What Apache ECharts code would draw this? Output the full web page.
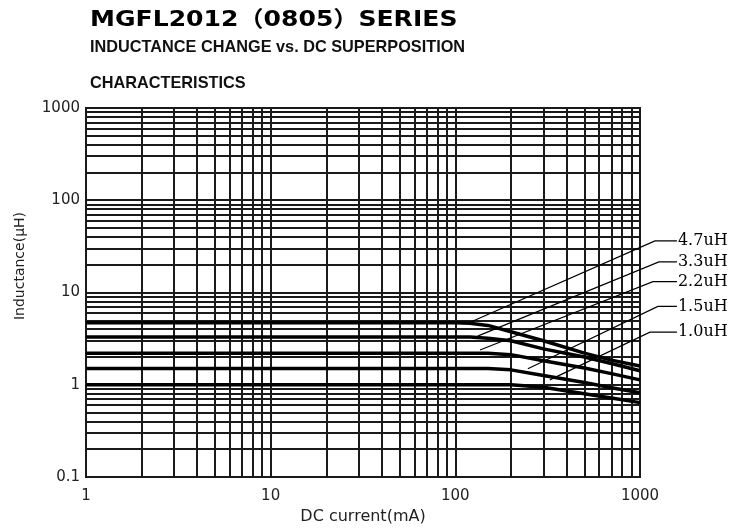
<!DOCTYPE html>
<html>
<head>
<meta charset="utf-8">
<script src="https://cdn.jsdelivr.net/npm/echarts@6/dist/echarts.min.js"></script>
<style>
html,body{margin:0;padding:0;background:#fff;}
#chart{width:735px;height:530px;}
</style>
</head>
<body>
<div id="chart"></div>
<script>
// ---- data ----
const currents = [1, 100, 120, 150, 200, 300, 500, 700, 1000];   // mA
const L47 = [4.7, 4.7, 4.65, 4.4, 3.75, 3.0, 2.2, 1.85, 1.6];
const L33 = [3.3, 3.3, 3.3, 3.2, 3.0, 2.45, 2.0, 1.7, 1.42];
const L22 = [2.2, 2.2, 2.2, 2.2, 2.12, 1.82, 1.52, 1.32, 1.13];
const L15 = [1.5, 1.5, 1.5, 1.5, 1.45, 1.26, 1.06, 0.93, 0.82];
const L10 = [1.0, 1.0, 1.0, 1.0, 1.0, 0.94, 0.8, 0.72, 0.64];

const labelNames = ['4.7uH', '3.3uH', '2.2uH', '1.5uH', '1.0uH'];
const leaderAnchorX = [117, 132, 136, 247, 325];
const leaderAnchorY = [4.64, 3.37, 2.38, 1.49, 1.13];
const leaderKinkX = [1205, 1266, 1175, 1250, 1132];
const leaderTextY = [36.2, 21.5, 13.1, 7.07, 3.72];
const leaderEndX = 1585;

const xTicks = [1, 10, 100, 1000];
const yTicks = [0.1, 1, 10, 100, 1000];
const mantissas = [2, 3, 4, 5, 6, 7, 8, 9];

// minor grid values
const xMinor = [], yMinor = [];
[1, 10, 100].forEach(d => mantissas.forEach(m => xMinor.push(m * d)));
[0.1, 1, 10, 100].forEach(d => mantissas.forEach(m => yMinor.push(+(m * d).toPrecision(3))));

const chart = echarts.init(document.getElementById('chart'), null, {renderer: 'canvas'});

const gridColor = '#1a1a1a';
const curveSets = [L47, L33, L22, L15, L10];

const series = curveSets.map((arr, i) => ({
  type: 'line',
  name: labelNames[i],
  data: currents.map((c, k) => [c, arr[k]]),
  showSymbol: false,
  symbol: 'none',
  lineStyle: {color: '#000', width: 3.5},
  z: 5,
  animation: false
}));

// minor grid lines via markLine on a carrier series
series.push({
  type: 'line',
  data: [],
  silent: true,
  animation: false,
  markLine: {
    silent: true,
    animation: false,
    symbol: ['none', 'none'],
    label: {show: false},
    lineStyle: {type: 'solid', color: gridColor, width: 2},
    data: xMinor.map(v => ({xAxis: v})).concat(yMinor.map(v => ({yAxis: v})))
  }
});

const fmt = v => String(+(+v).toPrecision(6));

chart.setOption({
  backgroundColor: '#fff',
  animation: false,
  grid: {left: 86, right: 95, top: 108, bottom: 50, show: true, borderColor: gridColor, borderWidth: 2, containLabel: false},
  xAxis: {
    type: 'log', logBase: 10, min: 1, max: 1000, splitNumber: 3,
    axisLine: {show: true, lineStyle: {color: gridColor, width: 2}},
    axisTick: {show: false},
    axisLabel: {color: '#222', fontFamily: '"DejaVu Sans", sans-serif', fontSize: 15, margin: 12, formatter: fmt, showMinLabel: true, showMaxLabel: true},
    splitLine: {show: true, lineStyle: {color: gridColor, width: 2}},
    name: 'DC current(mA)',
    nameLocation: 'middle',
    nameGap: 32,
    nameTextStyle: {color: '#222', fontFamily: '"DejaVu Sans", sans-serif', fontSize: 16}
  },
  yAxis: {
    type: 'log', logBase: 10, min: 0.1, max: 1000, splitNumber: 4,
    axisLine: {show: true, lineStyle: {color: gridColor, width: 2}},
    axisTick: {show: false},
    axisLabel: {color: '#222', fontFamily: '"DejaVu Sans", sans-serif', fontSize: 15, margin: 6, formatter: fmt, showMinLabel: true, showMaxLabel: true},
    splitLine: {show: true, lineStyle: {color: gridColor, width: 2}}
  },
  graphic: [
    {type: 'text', id: 'title', x: 90, y: 20, scaleX: 1.14, silent: true,
     style: {text: 'MGFL2012（0805）SERIES', font: 'bold 22px "DejaVu Sans", "Noto Sans CJK JP", sans-serif', fill: '#000', textVerticalAlign: 'middle'}},
    {type: 'text', id: 'sub1', x: 90, y: 48, silent: true,
     style: {text: 'INDUCTANCE CHANGE vs. DC SUPERPOSITION', font: 'bold 16.3px "Liberation Sans", Arial, sans-serif', fill: '#111', textVerticalAlign: 'middle'}},
    {type: 'text', id: 'sub2', x: 90, y: 84, silent: true,
     style: {text: 'CHARACTERISTICS', font: 'bold 16.3px "Liberation Sans", Arial, sans-serif', fill: '#111', textVerticalAlign: 'middle'}},
    {type: 'text', id: 'yname', x: 20, y: 266, rotation: Math.PI / 2, silent: true,
     style: {text: 'Inductance(μH)', font: '14px "DejaVu Sans", sans-serif', fill: '#222', textAlign: 'center', textVerticalAlign: 'middle'}}
  ],
  series: series
});

// ---- leader lines, positioned through the chart's own axes ----
// in-range ticks give the log-axis pixel scale, used to reach labels placed beyond the plot edge
const p1 = chart.convertToPixel({gridIndex: 0}, [xTicks[0], yTicks[0]]);
const p2 = chart.convertToPixel({gridIndex: 0}, [xTicks[xTicks.length - 1], yTicks[yTicks.length - 1]]);
const lx0 = Math.log10(xTicks[0]), lx1 = Math.log10(xTicks[xTicks.length - 1]);
const ly0 = Math.log10(yTicks[0]), ly1 = Math.log10(yTicks[yTicks.length - 1]);
function toPx(x, y) {
  return [
    p1[0] + (p2[0] - p1[0]) * (Math.log10(x) - lx0) / (lx1 - lx0),
    p1[1] + (p2[1] - p1[1]) * (Math.log10(y) - ly0) / (ly1 - ly0)
  ];
}
const leaderGraphics = [];
labelNames.forEach((nm, i) => {
  const a = toPx(leaderAnchorX[i], leaderAnchorY[i]);
  const k = toPx(leaderKinkX[i], leaderTextY[i]);
  const e = toPx(leaderEndX, leaderTextY[i]);
  leaderGraphics.push({
    type: 'polyline', id: 'leaderLine' + i, silent: true, z: 10,
    shape: {points: [a, k, e]},
    style: {stroke: '#000', lineWidth: 1.2, fill: null}
  });
  leaderGraphics.push({
    type: 'text', id: 'leaderText' + i, silent: true, z: 10, x: e[0] + 1, y: e[1],
    style: {text: nm, font: '16px "DejaVu Serif", "Liberation Serif", serif', fill: '#000', textVerticalAlign: 'middle'}
  });
});
chart.setOption({graphic: leaderGraphics});
</script>
</body>
</html>
